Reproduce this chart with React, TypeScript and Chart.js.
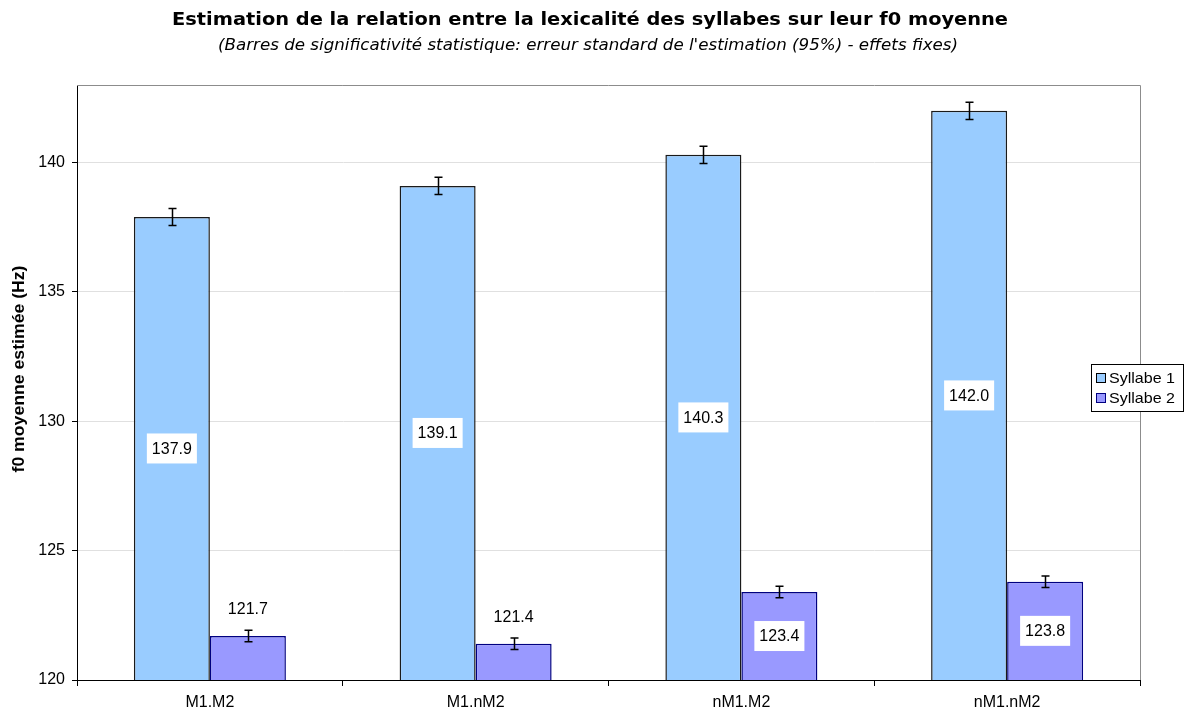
import React, { useEffect, useRef } from "react";
import { Chart, registerables } from "chart.js";

Chart.register(...registerables);

const categories = ["M1.M2", "M1.nM2", "nM1.M2", "nM1.nM2"];
const seriesNames = ["Syllabe 1", "Syllabe 2"];
const syllabe1 = [137.9, 139.1, 140.3, 142.0];
const syllabe2 = [121.7, 121.4, 123.4, 123.8];
const errSyllabe1 = [0.33, 0.33, 0.33, 0.33];
const errSyllabe2 = [0.22, 0.22, 0.22, 0.22];
const yTickValues = [120, 125, 130, 135, 140];

const titleText = "Estimation de la relation entre la lexicalité des syllabes sur leur f0 moyenne";
const subtitleText = "(Barres de significativité statistique: erreur standard de l'estimation (95%) - effets fixes)";
const yTitleText = "f0 moyenne estimée (Hz)";

const colors = [
  { fill: "#99CCFF", border: "#1a1a1a" },
  { fill: "#9999FF", border: "#000080" },
];

const FONT = "'Liberation Sans', Arial, sans-serif";
const TFONT = "'DejaVu Sans', Verdana, sans-serif";

function fitText(ctx: any, txt: string, cx: number, cy: number, targetW: number) {
  const w = ctx.measureText(txt).width;
  const s = targetW / w;
  ctx.save();
  ctx.translate(cx, cy);
  ctx.scale(s, 1);
  ctx.fillText(txt, 0, 0);
  ctx.restore();
}

const decorPlugin = {
  id: "decor",
  afterDraw(chart: any) {
    const ctx = chart.ctx;
    const ca = chart.chartArea;
    const yScale = chart.scales.y;
    ctx.save();
    // plot border top/right
    ctx.strokeStyle = "#8c8c8c";
    ctx.lineWidth = 1;
    ctx.beginPath();
    ctx.moveTo(ca.left, ca.top + 0.5);
    ctx.lineTo(ca.right + 0.5, ca.top + 0.5);
    ctx.lineTo(ca.right + 0.5, ca.bottom);
    ctx.stroke();

    const errs = [errSyllabe1, errSyllabe2];
    const allData = [syllabe1, syllabe2];
    const base = yScale.getPixelForValue(120);

    // error bars
    for (let di = 0; di < 2; di++) {
      const meta = chart.getDatasetMeta(di);
      for (let i = 0; i < meta.data.length; i++) {
        const bar = meta.data[i];
        const v = allData[di][i];
        const e = errs[di][i];
        const yt = yScale.getPixelForValue(v + e);
        const yb = yScale.getPixelForValue(v - e);
        const x = Math.round(bar.x) + 0.5;
        ctx.strokeStyle = "#000";
        ctx.lineWidth = 1.5;
        ctx.beginPath();
        ctx.moveTo(x, yt);
        ctx.lineTo(x, yb);
        ctx.moveTo(x - 4, yt);
        ctx.lineTo(x + 4, yt);
        ctx.moveTo(x - 4, yb);
        ctx.lineTo(x + 4, yb);
        ctx.stroke();
      }
    }

    // data labels
    ctx.font = `16px ${FONT}`;
    ctx.textAlign = "center";
    ctx.textBaseline = "middle";
    for (let di = 0; di < 2; di++) {
      const meta = chart.getDatasetMeta(di);
      for (let i = 0; i < meta.data.length; i++) {
        const bar = meta.data[i];
        const v = allData[di][i];
        const txt = v.toFixed(1);
        const top = yScale.getPixelForValue(v);
        const h = base - top;
        const w = ctx.measureText(txt).width;
        let cy = 0;
        if (h > 50) {
          cy = (top + base) / 2;
          ctx.fillStyle = "#ffffff";
          ctx.fillRect(bar.x - w / 2 - 5, cy - 15, w + 10, 30);
        } else {
          cy = top - 27;
        }
        ctx.fillStyle = "#000000";
        ctx.fillText(txt, bar.x, cy + 1);
      }
    }

    // titles
    ctx.fillStyle = "#000";
    ctx.textAlign = "center";
    ctx.textBaseline = "middle";
    ctx.font = `bold 17px ${TFONT}`;
    fitText(ctx, titleText, 590, 21, 836);
    ctx.font = `italic 15px ${TFONT}`;
    fitText(ctx, subtitleText, 588, 46, 740);

    // y title
    ctx.save();
    ctx.translate(20, 369);
    ctx.rotate(-Math.PI / 2);
    ctx.font = `bold 16px ${FONT}`;
    fitText(ctx, yTitleText, 0, 0, 207);
    ctx.restore();

    // legend
    const lx = 1091, ly = 364, lw = 92, lh = 47;
    ctx.fillStyle = "#fff";
    ctx.fillRect(lx, ly, lw, lh);
    ctx.strokeStyle = "#000";
    ctx.lineWidth = 1;
    ctx.strokeRect(lx + 0.5, ly + 0.5, lw, lh);
    ctx.font = `15px ${FONT}`;
    ctx.textAlign = "left";
    seriesNames.forEach((name, k) => {
      const cy = ly + 14 + k * 20;
      ctx.fillStyle = colors[k].fill;
      ctx.fillRect(lx + 5, cy - 5, 10, 10);
      ctx.strokeStyle = k === 0 ? "#000" : "#000080";
      ctx.strokeRect(lx + 5.5, cy - 4.5, 9, 9);
      ctx.fillStyle = "#000";
      ctx.textAlign = "left";
      ctx.save();
      ctx.translate(lx + 18, cy + 1);
      const w = ctx.measureText(name).width;
      ctx.scale(66 / w, 1);
      ctx.fillText(name, 0, 0);
      ctx.restore();
    });
    ctx.restore();
  },
};

export default function App() {
  const ref = useRef<HTMLCanvasElement | null>(null);
  useEffect(() => {
    if (!ref.current) return;
    const chart = new Chart(ref.current, {
      type: "bar",
      data: {
        labels: categories,
        datasets: [
          {
            label: seriesNames[0],
            data: syllabe1,
            backgroundColor: colors[0].fill,
            borderColor: colors[0].border,
            borderWidth: 1.5,
            borderSkipped: "bottom",
          },
          {
            label: seriesNames[1],
            data: syllabe2,
            backgroundColor: colors[1].fill,
            borderColor: colors[1].border,
            borderWidth: 1.5,
            borderSkipped: "bottom",
          },
        ],
      },
      options: {
        animation: false,
        responsive: false,
        maintainAspectRatio: false,
        layout: { padding: { left: 0, right: 45, top: 85, bottom: 0 } },
        datasets: { bar: { barPercentage: 1, categoryPercentage: 0.572 } },
        plugins: {
          legend: { display: false },
          title: { display: false },
          tooltip: { enabled: false },
        },
        scales: {
          x: {
            grid: {
              offset: true,
              drawOnChartArea: false,
              drawTicks: true,
              tickLength: 6,
              color: "#000",
              tickColor: "#000",
            },
            border: { color: "#000", width: 1 },
            ticks: { color: "#000", font: { family: FONT, size: 16 }, padding: 7 },
            afterFit(scale: any) {
              scale.height = 31;
            },
          },
          y: {
            min: 120,
            max: 143,
            grid: { color: "#e0e0e0", tickColor: "#000", tickLength: 5 },
            border: { color: "#000", width: 1 },
            ticks: { color: "#000", font: { family: FONT, size: 16 }, padding: 7, stepSize: 5 },
            afterBuildTicks(scale: any) {
              scale.ticks = yTickValues.map((v) => ({ value: v }));
            },
            afterFit(scale: any) {
              scale.width = 77;
            },
          },
        },
      },
      plugins: [decorPlugin],
    });
    return () => chart.destroy();
  }, []);
  return (
    <div style={{ position: "absolute", left: 0, top: 0, width: 1185, height: 711, background: "#fff" }}>
      <canvas ref={ref} width={1185} height={711} style={{ width: 1185, height: 711 }} />
    </div>
  );
}
